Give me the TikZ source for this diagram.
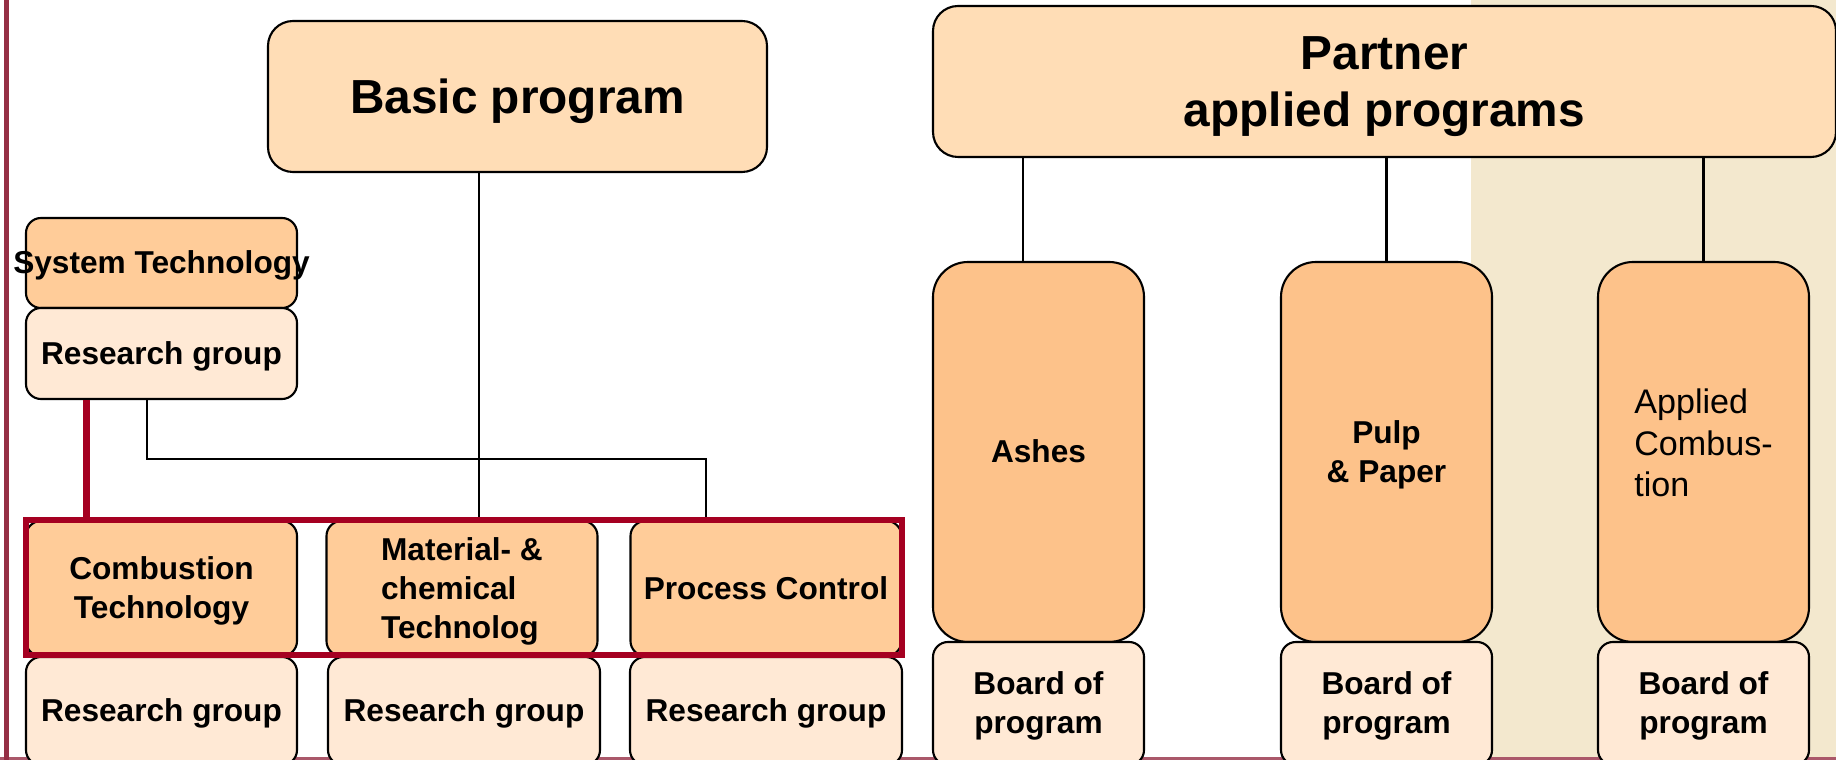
\documentclass[tikz,border=0pt]{standalone}
\usepackage{fontspec}
\setmainfont{Liberation Sans}

\definecolor{headfill}{HTML}{FFDDB6}
\definecolor{unitfill}{HTML}{FFCC99}
\definecolor{progfill}{HTML}{FDC28A}
\definecolor{groupfill}{HTML}{FFE9D5}
\definecolor{sidefill}{HTML}{F3E8CE}
\definecolor{deepred}{HTML}{A50021}
\definecolor{frameline}{HTML}{952F45}

% line strut with the ascent and descent of the font
\newcommand{\lstrut}{\rule[-0.212em]{0pt}{1.117em}}

\tikzset{
    box/.style={draw=black, line width=0.6pt, inner sep=0pt, align=center,
        font=\bfseries\fontsize{9}{11.1}\selectfont,
        execute at begin node=\lstrut, execute at end node=\lstrut},
    head/.style={box, fill=headfill, rounded corners=0.25cm,
        minimum width=#1, minimum height=1.51cm,
        font=\bfseries\fontsize{13.6}{16.2}\selectfont},
    unit/.style={box, fill=unitfill, rounded corners=0.15cm,
        minimum width=2.71cm, minimum height=#1},
    group/.style={box, fill=groupfill, rounded corners=0.15cm,
        minimum width=#1, minimum height=1.08cm},
    prog/.style={box, fill=progfill, rounded corners=0.35cm,
        minimum width=2.11cm, minimum height=3.80cm},
    board/.style={group=2.11cm, minimum height=1.23cm},
    link/.style={draw=black, line width=0.6pt},
    redlink/.style={draw=deepred, line width=1.8pt},
}

\begin{document}
\begin{tikzpicture}[x=1cm, y=-1cm]
    \useasboundingbox (0, 0) rectangle (18.36, 7.60);
    \fill[sidefill] (14.71, 0) rectangle (18.36, 7.60);
    \draw[frameline!80, line width=0.85pt] (0, 7.585) -- (18.36, 7.585);

    % basic program side
    \node[head=4.99cm] (basic) at (5.175, 0.965) {Basic program};

        \node[unit=0.90cm] (systech) at (1.615, 2.63) {\makebox[0pt]{System Technology}};
        \node[group=2.71cm, minimum height=0.91cm] (sysgrp) at (1.615, 3.535) {Research group};

        \node[unit=1.35cm] (comb) at (1.615, 5.885) {\lstrut Combustion\\Technology\lstrut};
        \node[unit=1.35cm, align=left] (mat) at (4.62, 5.885) {\lstrut Material- \&\\chemical\\Technolog\lstrut};
        \node[unit=1.35cm] (proc) at (7.66, 5.885) {Process Control};

        \node[group=2.71cm] (combgrp) at (1.615, 7.11) {Research group};
        \node[group=2.72cm] (matgrp) at (4.64, 7.11) {Research group};
        \node[group=2.72cm] (procgrp) at (7.66, 7.11) {Research group};

    \node[draw=deepred, line width=1.8pt, inner sep=0pt,
        minimum width=8.76cm, minimum height=1.35cm] (core) at (4.64, 5.875) {};

    \coordinate (turn) at (7.06, 4.59);
    \draw[link] ([xshift=-0.385cm]basic.south) -- ([xshift=-0.385cm]basic.south |- core.north);
    \draw[redlink] ([xshift=-0.75cm]sysgrp.south) -- ([xshift=-0.75cm]sysgrp.south |- core.north);
    \draw[link, line width=0.7pt] ([xshift=-0.145cm]sysgrp.south) |- (turn) -- (turn |- core.north);

    % partner side
    \node[head=9.03cm] (partner) at (13.845, 0.815) {\lstrut Partner\\applied programs\lstrut};

        \node[prog] (ashes) at (10.385, 4.52) {Ashes};
        \node[prog] (pulp) at (13.865, 4.52) {\lstrut Pulp\\\& Paper\lstrut};
        \node[prog, label={[font=\fontsize{9.7}{11.8}\selectfont, align=left,
            yshift=0.09cm]center:{Applied\\Combus-\\tion}}] (appl) at (17.035, 4.52) {};

        \node[board] (ashesbrd) at (10.385, 7.035) {\lstrut Board of\\program\lstrut};
        \node[board] (pulpbrd) at (13.865, 7.035) {\lstrut Board of\\program\lstrut};
        \node[board] (applbrd) at (17.035, 7.035) {\lstrut Board of\\program\lstrut};

    \draw[link] ([xshift=-0.155cm]partner.south -| ashes.north) -- ([xshift=-0.155cm]ashes.north);
    \draw[link] (partner.south -| pulp.north) -- (pulp.north);
    \draw[link] (partner.south -| appl.north) -- (appl.north);

    \draw[frameline, line width=1.4pt] (0.065, 0) -- (0.065, 7.60);
\end{tikzpicture}
\end{document}
